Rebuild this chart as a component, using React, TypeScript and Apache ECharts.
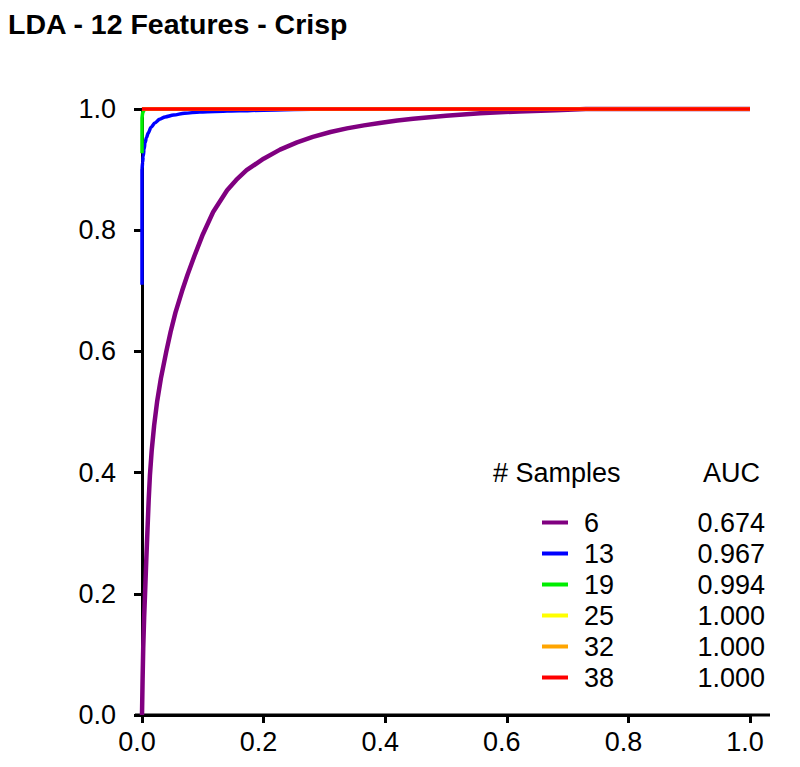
import React, { useEffect, useRef } from "react";
import * as echarts from "echarts";

const titleText = "LDA - 12 Features - Crisp";
const sampleNames = ["6", "13", "19", "25", "32", "38"];
const aucValues = ["0.674", "0.967", "0.994", "1.000", "1.000", "1.000"];
const seriesColors = ["#800080", "#0000ff", "#00ee00", "#ffff00", "#ffa500", "#ff0000"];

// ROC curves: [false positive rate, true positive rate]
const roc6: [number, number][] = [
  [0, 0], [0.001, 0.06], [0.002, 0.11], [0.0035, 0.16], [0.005, 0.2], [0.007, 0.255],
  [0.009, 0.305], [0.011, 0.355], [0.013, 0.395], [0.016, 0.437], [0.02, 0.478],
  [0.025, 0.518], [0.031, 0.555], [0.04, 0.6], [0.047, 0.632], [0.055, 0.664],
  [0.066, 0.7], [0.075, 0.727], [0.086, 0.757], [0.1, 0.793], [0.117, 0.83],
  [0.14, 0.866], [0.155, 0.883], [0.172, 0.899], [0.2, 0.918], [0.227, 0.933],
  [0.255, 0.945], [0.281, 0.954], [0.31, 0.962], [0.337, 0.968], [0.365, 0.973],
  [0.391, 0.977], [0.42, 0.981], [0.446, 0.984], [0.5, 0.989], [0.556, 0.993],
  [0.62, 0.996], [0.68, 0.998], [0.73, 1], [1, 1],
];
const roc13: [number, number][] = [
  [0, 0.71], [0, 0.9], [0.001, 0.912], [0.002, 0.922], [0.0035, 0.934], [0.005, 0.944],
  [0.0075, 0.953], [0.01, 0.96], [0.015, 0.97], [0.021, 0.977], [0.029, 0.983],
  [0.038, 0.987], [0.052, 0.99], [0.07, 0.993], [0.095, 0.995], [0.12, 0.996],
  [0.16, 0.997], [0.2, 0.998], [0.3, 1], [1, 1],
];
const roc19: [number, number][] = [
  [0, 0.927], [0, 0.985], [0.001, 0.993], [0.003, 0.998], [0.006, 0.9995], [0.01, 1], [1, 1],
];
const roc25: [number, number][] = [[0, 1], [1, 1]];
const roc32: [number, number][] = [[0, 1], [1, 1]];
const roc38: [number, number][] = [[0, 1], [1, 1]];
const rocData = [roc6, roc13, roc19, roc25, roc32, roc38];
const lineWidths = [4.5, 3.5, 3.5, 3.5, 3.5, 3.5];

export default function App() {
  const ref = useRef<HTMLDivElement>(null);
  useEffect(() => {
    if (!ref.current) return;
    document.body.style.margin = "0";
    const chart = echarts.init(ref.current, undefined, { renderer: "svg" });
    const font = "Liberation Sans, Arial, sans-serif";
    const aucMap: Record<string, string> = {};
    sampleNames.forEach((n, i) => (aucMap[n] = aucValues[i]));
    chart.setOption({
      animation: false,
      backgroundColor: "#ffffff",
      textStyle: { fontFamily: font },
      grid: { left: 142, right: 50, top: 109, bottom: 52, containLabel: false },
      xAxis: {
        type: "value",
        min: 0,
        max: 1,
        interval: 0.2,
        axisLine: { show: true, lineStyle: { color: "#000", width: 3 } },
        axisTick: { show: true, length: 8, lineStyle: { color: "#000", width: 3 } },
        axisLabel: {
          color: "#000",
          fontSize: 27,
          fontFamily: font,
          margin: 13,
          padding: [0, 10, 0, 0],
          formatter: (v: number) => v.toFixed(1),
        },
        splitLine: { show: false },
      },
      yAxis: {
        type: "value",
        min: 0,
        max: 1,
        interval: 0.2,
        axisLine: { show: true, lineStyle: { color: "#000", width: 3 } },
        axisTick: { show: true, length: 8, lineStyle: { color: "#000", width: 3 } },
        axisLabel: {
          color: "#000",
          fontSize: 27,
          fontFamily: font,
          margin: 26,
          formatter: (v: number) => v.toFixed(1),
        },
        splitLine: { show: false },
      },
      title: {
        text: titleText,
        left: 8,
        top: 9,
        padding: 0,
        textStyle: { fontSize: 28.5, fontWeight: "bold", color: "#000", fontFamily: font },
      },
      legend: {
        orient: "vertical",
        left: 537,
        top: 504,
        icon: "rect",
        itemWidth: 26,
        itemHeight: 4,
        itemGap: 4,
        data: sampleNames,
        selectedMode: false,
        formatter: (name: string) => `{s|}{n|${name}}{a|${aucMap[name]}}`,
        textStyle: {
          color: "#000",
          fontSize: 27,
          fontFamily: font,
          lineHeight: 27,
          rich: {
            s: { width: 11, fontSize: 27, fontFamily: font },
            n: { width: 90, fontSize: 27, fontFamily: font, color: "#000" },
            a: { width: 91, align: "right", fontSize: 27, fontFamily: font, color: "#000" },
          },
        },
      },
      series: sampleNames.map((name, i) => ({
        name,
        type: "line",
        data: rocData[i],
        symbol: "none",
        clip: false,
        smooth: i === 1 ? 0.3 : false,
        smoothMonotone: "x",
        lineStyle: { color: seriesColors[i], width: lineWidths[i], join: "round" },
        itemStyle: { color: seriesColors[i] },
        z: 2 + i,
      })),
    });
    const p0 = chart.convertToPixel({ gridIndex: 0 }, [0, 0]) as number[];
    const p1 = chart.convertToPixel({ gridIndex: 0 }, [1, 0]) as number[];
    chart.setOption({
      graphic: [
        {
          type: "line",
          shape: { x1: p0[0] - 7, y1: p0[1], x2: p1[0] + 20, y2: p1[1] },
          style: { stroke: "#000", lineWidth: 3 },
          z: 1,
        },
        {
          type: "text",
          left: 493,
          top: 459,
          style: { text: "# Samples", fontSize: 27, fontFamily: font, fill: "#000" },
        },
        {
          type: "text",
          right: 40,
          top: 459,
          style: { text: "AUC", fontSize: 27, fontFamily: font, fill: "#000" },
        },
      ],
    });
    return () => chart.dispose();
  }, []);
  return <div ref={ref} style={{ width: 800, height: 767 }} />;
}
